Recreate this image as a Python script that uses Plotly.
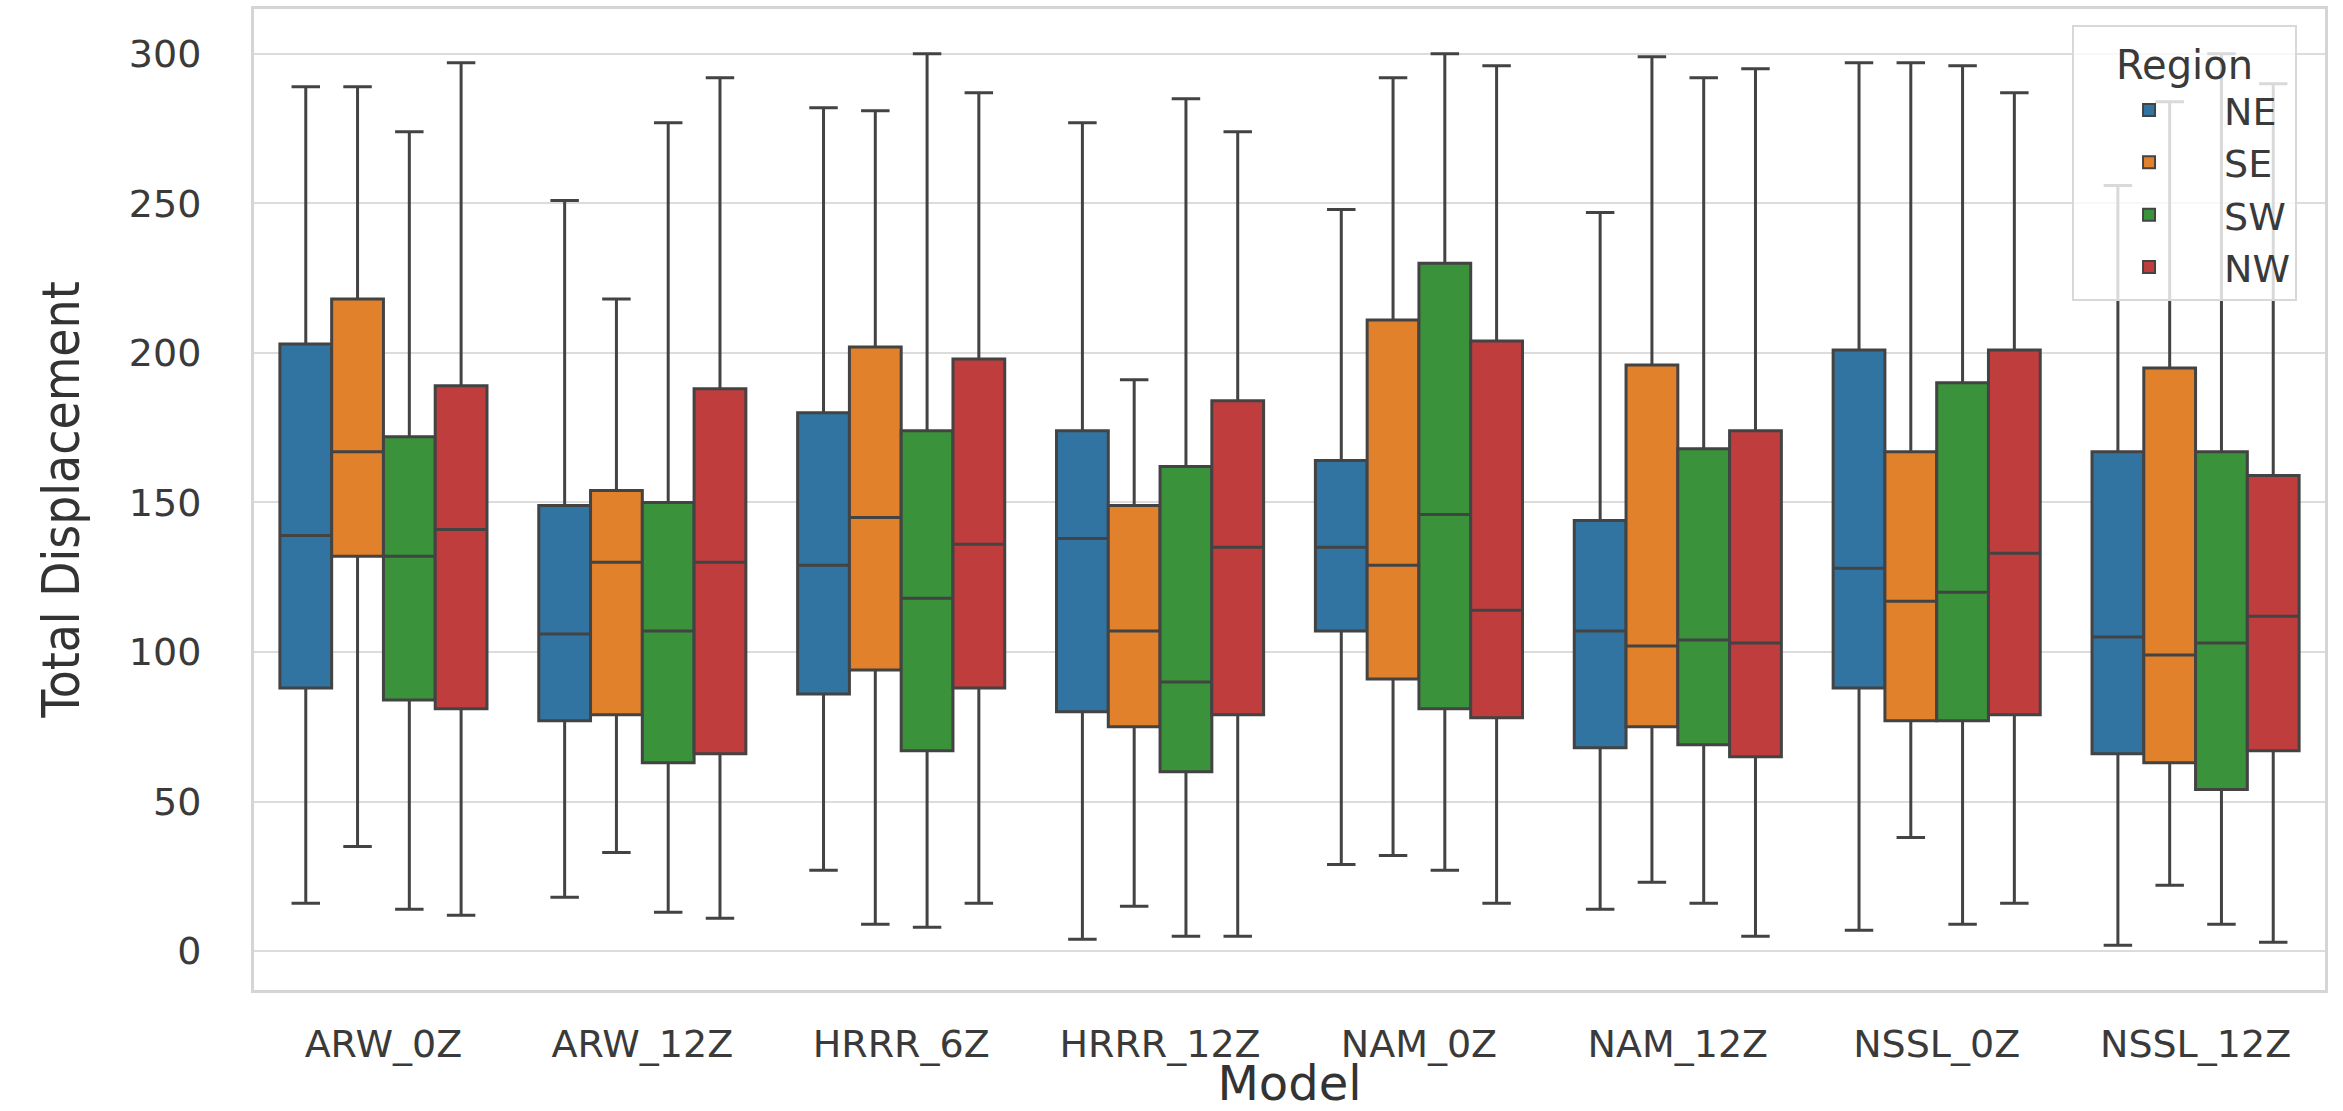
import plotly.graph_objects as go

models = ["ARW_0Z", "ARW_12Z", "HRRR_6Z", "HRRR_12Z", "NAM_0Z", "NAM_12Z", "NSSL_0Z", "NSSL_12Z"]
regions = ["NE", "SE", "SW", "NW"]
colors = ["#3274a1", "#e1812c", "#3a923a", "#c03d3e"]

NE_lower = [16, 18, 27, 4, 29, 14, 7, 2]
NE_q1 = [88, 77, 86, 80, 107, 68, 88, 66]
NE_med = [139, 106, 129, 138, 135, 107, 128, 105]
NE_q3 = [203, 149, 180, 174, 164, 144, 201, 167]
NE_upper = [289, 251, 282, 277, 248, 247, 297, 256]

SE_lower = [35, 33, 9, 15, 32, 23, 38, 22]
SE_q1 = [132, 79, 94, 75, 91, 75, 77, 63]
SE_med = [167, 130, 145, 107, 129, 102, 117, 99]
SE_q3 = [218, 154, 202, 149, 211, 196, 167, 195]
SE_upper = [289, 218, 281, 191, 292, 299, 297, 284]

SW_lower = [14, 13, 8, 5, 27, 16, 9, 9]
SW_q1 = [84, 63, 67, 60, 81, 69, 77, 54]
SW_med = [132, 107, 118, 90, 146, 104, 120, 103]
SW_q3 = [172, 150, 174, 162, 230, 168, 190, 167]
SW_upper = [274, 277, 300, 285, 300, 292, 296, 300]

NW_lower = [12, 11, 16, 5, 16, 5, 16, 3]
NW_q1 = [81, 66, 88, 79, 78, 65, 79, 67]
NW_med = [141, 130, 136, 135, 114, 103, 133, 112]
NW_q3 = [189, 188, 198, 184, 204, 174, 201, 159]
NW_upper = [297, 292, 287, 274, 296, 295, 287, 290]

stats = {
    "NE": (NE_lower, NE_q1, NE_med, NE_q3, NE_upper),
    "SE": (SE_lower, SE_q1, SE_med, SE_q3, SE_upper),
    "SW": (SW_lower, SW_q1, SW_med, SW_q3, SW_upper),
    "NW": (NW_lower, NW_q1, NW_med, NW_q3, NW_upper),
}

y_ticks = [0, 50, 100, 150, 200, 250, 300]

fig = go.Figure()
for reg, col in zip(regions, colors):
    lo, q1, med, q3, up = stats[reg]
    fig.add_trace(go.Box(
        name=reg, x=models, q1=q1, median=med, q3=q3,
        lowerfence=lo, upperfence=up,
        fillcolor=col, line=dict(color="#434343", width=3),
        whiskerwidth=0.55, boxpoints=False,
    ))

tick_font = dict(family="DejaVu Sans", size=38, color="#3a3a3a")

fig.update_layout(
    width=2343, height=1111,
    paper_bgcolor="white", plot_bgcolor="white",
    margin=dict(l=254, r=18, t=6, b=116),
    boxmode="group", boxgap=0.2, boxgroupgap=0,
    showlegend=True,
    legend=dict(
        x=0.9865, y=0.984, xanchor="right", yanchor="top",
        bgcolor="rgba(255,255,255,0.8)", bordercolor="#d8d8d8", borderwidth=2,
        font=dict(family="DejaVu Sans", size=38, color="#3a3a3a"),
        title=dict(text="Region", side="top center",
                   font=dict(family="DejaVu Sans", size=40, color="#3a3a3a")),
        itemwidth=140, itemsizing="constant",
    ),
    xaxis=dict(
        categoryorder="array", categoryarray=models,
        tickfont=tick_font, showgrid=False, zeroline=False,
        showline=True, linecolor="#d5d5d5", linewidth=3, mirror=True,
        ticks="", ticklabelstandoff=18,
        title=dict(text="Model", standoff=6,
                   font=dict(family="DejaVu Sans", size=48, color="#333333")),
    ),
    yaxis=dict(
        range=[-13, 315], tickvals=y_ticks,
        tickfont=tick_font, showgrid=True, gridcolor="#dcdcdc", gridwidth=2,
        zeroline=False, showline=True, linecolor="#d5d5d5", linewidth=3, mirror=True,
        ticks="", ticklabelstandoff=42,
        title=dict(text="Total Displacement", standoff=34,
                   font=dict(family="DejaVu Sans Condensed, sans-serif",
                             size=51, color="#333333")),
    ),
)

fig.write_html("out.html")
